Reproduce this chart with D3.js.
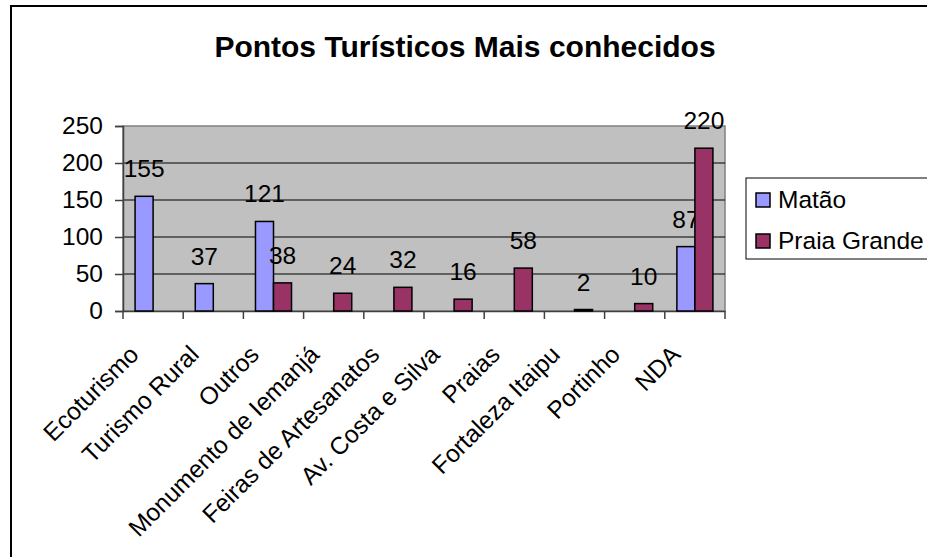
<!DOCTYPE html>
<html>
<head>
<meta charset="utf-8">
<script src="https://d3js.org/d3.v7.min.js"></script>
<style>
  html, body { margin: 0; padding: 0; background: #fff; }
  svg { font-family: Arial, 'Liberation Sans', sans-serif; display: block; }
</style>
</head>
<body>
<div id="chart"></div>
<script>
// dados
const categories = ['Ecoturismo', 'Turismo Rural', 'Outros', 'Monumento de Iemanjá',
  'Feiras de Artesanatos', 'Av. Costa e Silva', 'Praias', 'Fortaleza Itaipu', 'Portinho', 'NDA']
const seriesNames = ['Matão', 'Praia Grande']
const matao = [155, 37, 121, null, null, null, null, null, null, 87]
const praiaGrande = [null, null, 38, 24, 32, 16, 58, 2, 10, 220]
const yTicks = [0, 50, 100, 150, 200, 250]
const colors = ['#9999FF', '#993366']

const W = 927, H = 557
const plot = {left: 123, top: 126, right: 725, bottom: 311}
const fs = 24.5

const svg = d3.select('#chart').append('svg')
  .attr('width', W).attr('height', H)

// moldura do gráfico
svg.append('rect')
  .attr('x', 11).attr('y', 6).attr('width', 960).attr('height', 600)
  .attr('fill', '#fff').attr('stroke', '#000').attr('stroke-width', 2)

svg.append('text')
  .attr('x', 465).attr('y', 57)
  .attr('text-anchor', 'middle')
  .attr('font-size', 30).attr('font-weight', 'bold')
  .text('Pontos Turísticos Mais conhecidos')

const x = d3.scaleBand().domain(categories).range([plot.left, plot.right])
const xs = d3.scaleBand().domain(seriesNames).range([0, x.bandwidth()]).paddingInner(0).paddingOuter(0.67)
const y = d3.scaleLinear().domain([0, 250]).range([plot.bottom, plot.top])

// área de plotagem
svg.append('rect')
  .attr('x', plot.left).attr('y', plot.top)
  .attr('width', plot.right - plot.left).attr('height', plot.bottom - plot.top)
  .attr('fill', '#C0C0C0').attr('stroke', '#808080').attr('stroke-width', 1.5)

svg.append('g').selectAll('line')
  .data(yTicks.filter(d => d > 0 && d < 250))
  .enter().append('line')
  .attr('x1', plot.left).attr('x2', plot.right)
  .attr('y1', d => y(d)).attr('y2', d => y(d))
  .attr('stroke', '#000').attr('stroke-width', 1)

// eixo Y
const yAxis = svg.append('g')
  .attr('transform', `translate(${plot.left},0)`)
  .call(d3.axisLeft(y).tickValues(yTicks).tickSize(8).tickPadding(12))
yAxis.select('.domain').attr('stroke', '#404040').attr('stroke-width', 1.5)
yAxis.selectAll('.tick line').attr('stroke', '#404040').attr('stroke-width', 1.5)
yAxis.selectAll('.tick text')
  .attr('font-size', fs).attr('fill', '#000').attr('font-family', 'Arial, Liberation Sans, sans-serif')

// eixo X
const xAxis = svg.append('g')
  .attr('transform', `translate(0,${plot.bottom})`)
  .call(d3.axisBottom(x).tickSize(0).tickFormat(''))
xAxis.select('.domain').attr('stroke', '#404040').attr('stroke-width', 1.5)
svg.append('g').selectAll('line')
  .data(d3.range(categories.length + 1))
  .enter().append('line')
  .attr('x1', i => plot.left + i * x.step()).attr('x2', i => plot.left + i * x.step())
  .attr('y1', plot.bottom).attr('y2', plot.bottom + 8)
  .attr('stroke', '#404040').attr('stroke-width', 1.5)

svg.append('g').selectAll('text')
  .data(categories)
  .enter().append('text')
  .attr('transform', d => `translate(${x(d) + x.bandwidth() / 2 - 13},${plot.bottom + 45}) rotate(-45)`)
  .attr('text-anchor', 'end')
  .attr('font-size', fs)
  .text(d => d)

// barras
const series = [matao, praiaGrande]
series.forEach((vals, si) => {
  const data = categories.map((c, i) => ({c, v: vals[i]})).filter(d => d.v != null)
  const g = svg.append('g')
  g.selectAll('rect').data(data).enter().append('rect')
    .attr('x', d => x(d.c) + xs(seriesNames[si]))
    .attr('width', xs.bandwidth())
    .attr('y', d => y(d.v))
    .attr('height', d => y(0) - y(d.v))
    .attr('fill', colors[si])
    .attr('stroke', '#000').attr('stroke-width', 1.5)
  g.selectAll('text').data(data).enter().append('text')
    .attr('x', d => x(d.c) + xs(seriesNames[si]) + xs.bandwidth() / 2)
    .attr('y', d => y(d.v) - 19)
    .attr('text-anchor', 'middle')
    .attr('font-size', fs)
    .text(d => d.v)
})

// legenda
const leg = svg.append('g')
leg.append('rect')
  .attr('x', 746).attr('y', 178).attr('width', 200).attr('height', 81)
  .attr('fill', '#fff').attr('stroke', '#000').attr('stroke-width', 1)
seriesNames.forEach((s, i) => {
  leg.append('rect')
    .attr('x', 756).attr('y', 193 + i * 41).attr('width', 14).attr('height', 14)
    .attr('fill', colors[i]).attr('stroke', '#000').attr('stroke-width', 1.5)
  leg.append('text')
    .attr('x', 778).attr('y', 208 + i * 41)
    .attr('font-size', fs)
    .text(s)
})
</script>
</body>
</html>
